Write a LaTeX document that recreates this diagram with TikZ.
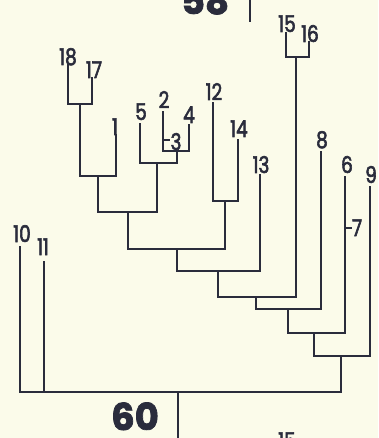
\documentclass[tikz,border=0pt]{standalone}
\usepackage{fontspec}
\setmainfont{Poppins}[Numbers=Proportional]
\newfontfamily\labfont{Poppins}[Numbers=Proportional, FakeStretch=0.8, FakeBold=2.5]
\newfontfamily\bigfont{Poppins}[Numbers=Proportional, FakeBold=2]
\definecolor{bgc}{HTML}{FBFBEA}
\definecolor{ink}{HTML}{2A2C3C}
\begin{document}
\begin{tikzpicture}[x=1pt,y=-1pt,
  tree/.style={draw=ink, line width=1.9pt, line cap=rect, line join=miter},
  lab/.style={anchor=base, inner sep=0pt, text=ink, font=\labfont\fontsize{23}{23}\selectfont},
  big/.style={anchor=base, inner sep=0pt, text=ink, font=\bigfont\bfseries\fontsize{37}{37}\selectfont}]
\useasboundingbox[fill=bgc] (0,0) rectangle (378,438);
% leaf tips
\coordinate (L18) at (68,65);
\coordinate (L17) at (92,78);
\coordinate (L1) at (116,135);
\coordinate (L5) at (140,124);
\coordinate (L2) at (163,112);
\coordinate (L4) at (189,125);
\coordinate (L12) at (213,103);
\coordinate (L14) at (238,140);
\coordinate (L13) at (260,175);
\coordinate (L15) at (286,33);
\coordinate (L16) at (309,42);
\coordinate (L8) at (321,152);
\coordinate (L6) at (345,177);
\coordinate (L9) at (370,187);
\coordinate (L10) at (20,247);
\coordinate (L11) at (44,262);
% internal nodes (stem x, bar y)
\coordinate (a) at (80,104);
\coordinate (b) at (98,176);
\coordinate (c24) at (177,151);
\coordinate (c) at (157,163);
\coordinate (d) at (128,212);
\coordinate (f) at (225,201);
\coordinate (e) at (177,249);
\coordinate (g) at (218,271);
\coordinate (p) at (296,57);
\coordinate (h) at (256,297);
\coordinate (i) at (288,309);
\coordinate (j) at (314,333);
\coordinate (k) at (341,356);
\coordinate (root) at (178,392);
\coordinate (rootend) at (178,440);
\coordinate (t3a) at (163,140);
\coordinate (t3b) at (169,140);
\coordinate (t7a) at (345,228);
\coordinate (t7b) at (351,228);
\coordinate (top58a) at (250,-2);
\coordinate (top58b) at (250,21);
% tree
\draw[tree] (L18) |- (a) -| (L17);
\draw[tree] (a) |- (b) -| (L1);
\draw[tree] (L2) |- (c24) -| (L4);
\draw[tree] (L5) |- (c) -| (c24);
\draw[tree] (b) |- (d) -| (c);
\draw[tree] (L12) |- (f) -| (L14);
\draw[tree] (d) |- (e) -| (f);
\draw[tree] (e) |- (g) -| (L13);
\draw[tree] (L15) |- (p) -| (L16);
\draw[tree] (g) |- (h) -| (p);
\draw[tree] (h) |- (i) -| (L8);
\draw[tree] (i) |- (j) -| (L6);
\draw[tree] (j) |- (k) -| (L9);
\draw[tree] (L10) |- (root) -| (k);
\draw[tree] (L11) -- (L11 |- root);
\draw[tree] (root) -- (rootend);
\draw[tree] (t3a) -- (t3b);
\draw[tree] (t7a) -- (t7b);
\draw[tree] (top58a) -- (top58b);
% labels
\node[lab] (n18) at (68,65) {18};
\node[lab] (n17) at (94,78) {17};
\node[lab] (n1) at (115,135) {1};
\node[lab] (n5) at (141,120) {5};
\node[lab] (n2) at (164,108) {2};
\node[lab] (n3) at (176,150) {3};
\node[lab] (n4) at (189,123) {4};
\node[lab] (n12) at (214,100) {12};
\node[lab] (n14) at (239,137) {14};
\node[lab] (n13) at (261,173) {13};
\node[lab] (n15) at (287,32) {15};
\node[lab] (n16) at (310,42) {16};
\node[lab] (n8) at (322,148) {8};
\node[lab] (n6) at (347,173) {6};
\node[lab] (n9) at (371,183) {9};
\node[lab] (n7) at (357,236) {7};
\node[lab] (n10) at (22,242) {10};
\node[lab] (n11) at (43,255) {11};
\node[lab] (n15b) at (287,449) {15};
\node[big] (n58) at (205,14) {58};
\node[big] (n60) at (135,430) {60};
\end{tikzpicture}
\end{document}
